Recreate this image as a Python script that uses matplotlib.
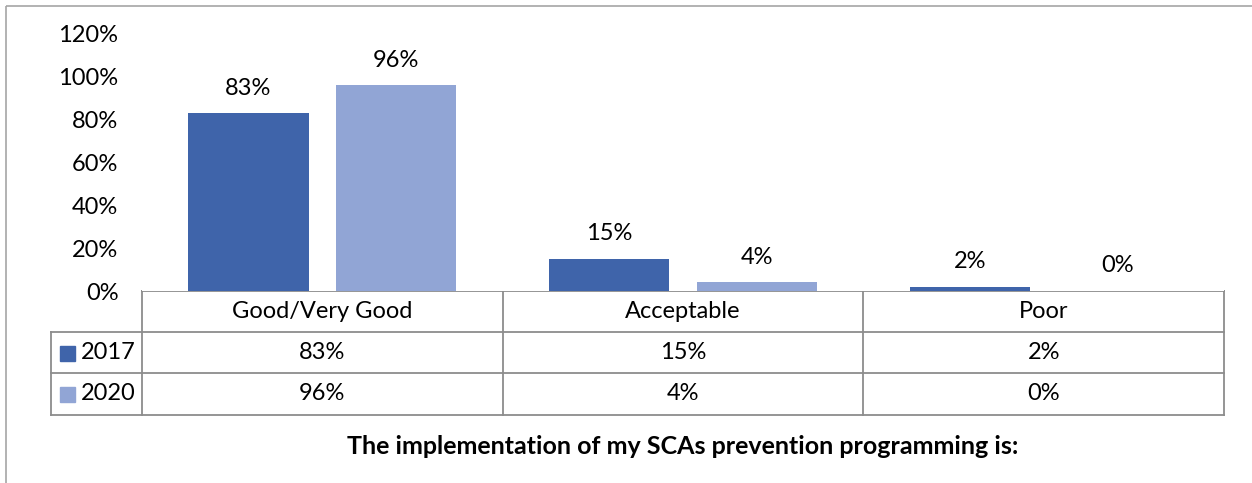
import matplotlib.pyplot as plt
from matplotlib.patches import Rectangle

categories = ['Good/Very Good', 'Acceptable', 'Poor']
series_names = ['2017', '2020']
values_2017 = [0.83, 0.15, 0.02]
values_2020 = [0.96, 0.04, 0.00]
yticks = [0, 0.2, 0.4, 0.6, 0.8, 1.0, 1.2]
title = 'The implementation of my SCAs prevention programming is:'

colors = ['#3F64AA', '#91A5D5']
grid_col = '#8C8C8C'
fs = 17
plt.rcParams['font.family'] = ['Lato', 'DejaVu Sans']

W, H = 1252, 483
fig = plt.figure(figsize=(W / 100, H / 100), dpi=100)

# overlay in pixel coords for frame and data table
over = fig.add_axes([0, 0, 1, 1])
over.set_xlim(0, W)
over.set_ylim(H, 0)
over.axis('off')
over.add_patch(Rectangle((6, 6), W, H, fill=False, ec='#A6A6A6', lw=1.2))

x0, x1 = 142, 1224
y0, ytop = 291, 34
ax = fig.add_axes([x0 / W, (H - y0) / H, (x1 - x0) / W, (y0 - ytop) / H])
n = len(categories)
idx = list(range(n))
bw = 1 / 3
for vals, off, c in [(values_2017, -0.205, colors[0]), (values_2020, 0.205, colors[1])]:
    pos = [i + off for i in idx]
    ax.bar(pos, vals, width=bw, color=c)
    for p, v in zip(pos, vals):
        ax.annotate('%d%%' % round(v * 100), (p, v), xytext=(0, 10.5),
                    textcoords='offset points', ha='center', va='bottom', fontsize=fs)
ax.set_xlim(-0.5, n - 0.5)
ax.set_ylim(0, 1.2)
ax.set_yticks(yticks)
ax.set_yticklabels(['%d%%' % round(t * 100) for t in yticks], fontsize=fs)
ax.tick_params(axis='y', length=0, pad=17)
ax.set_xticks([])
for s in ax.spines.values():
    s.set_visible(False)

# data table
rows = [291, 332, 373, 415]
cols = [x0 + i * (x1 - x0) / n for i in range(n + 1)]
lx = 51
lw = 1.3
over.plot([x0, x1], [rows[0], rows[0]], color=grid_col, lw=lw)
for r in rows[1:]:
    over.plot([lx, x1], [r, r], color=grid_col, lw=lw)
over.plot([lx, lx], [rows[1], rows[3]], color=grid_col, lw=lw)
for cx in cols:
    over.plot([cx, cx], [rows[0], rows[3]], color=grid_col, lw=lw)
for i, cat in enumerate(categories):
    cx = (cols[i] + cols[i + 1]) / 2
    over.text(cx, (rows[0] + rows[1]) / 2, cat, ha='center', va='center', fontsize=fs)
    for j, vals in enumerate([values_2017, values_2020]):
        over.text(cx, (rows[j + 1] + rows[j + 2]) / 2, '%d%%' % round(vals[i] * 100),
                  ha='center', va='center', fontsize=fs)
for j, name in enumerate(series_names):
    cy = (rows[j + 1] + rows[j + 2]) / 2
    over.add_patch(Rectangle((60, cy - 7), 15, 15, color=colors[j]))
    over.text(81, cy, name, ha='left', va='center', fontsize=fs)

over.text((x0 + x1) / 2, 447, title, ha='center', va='center', fontsize=18, fontweight='bold')

fig.savefig('out.png', dpi=100)
